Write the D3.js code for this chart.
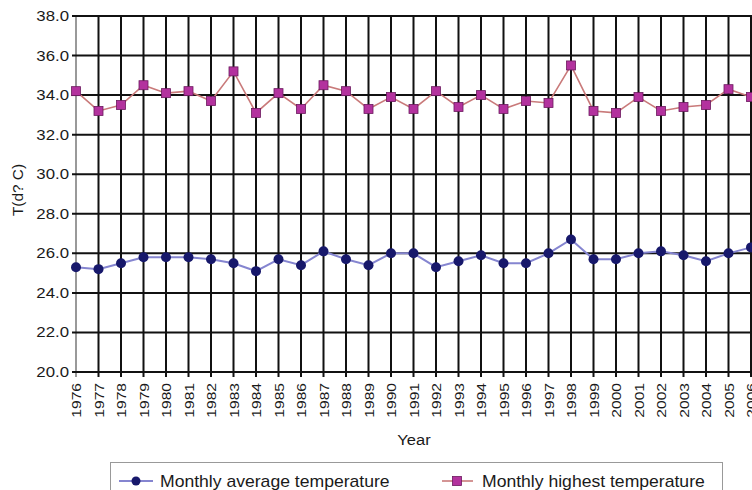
<!DOCTYPE html>
<html>
<head>
<meta charset="utf-8">
<script src="https://cdn.jsdelivr.net/npm/d3@7"></script>
<style>
  body { margin: 0; background: #fff; }
  text { font-family: "Liberation Sans", Arial, sans-serif; fill: #1a1a1a; }
</style>
</head>
<body>
<div id="chart"></div>
<script>
// data
let years = d3.range(1976, 2007);
let avgTemp = [25.3, 25.2, 25.5, 25.8, 25.8, 25.8, 25.7, 25.5, 25.1, 25.7,
               25.4, 26.1, 25.7, 25.4, 26.0, 26.0, 25.3, 25.6, 25.9, 25.5,
               25.5, 26.0, 26.7, 25.7, 25.7, 26.0, 26.1, 25.9, 25.6, 26.0, 26.3];
let maxTemp = [34.2, 33.2, 33.5, 34.5, 34.1, 34.2, 33.7, 35.2, 33.1, 34.1,
               33.3, 34.5, 34.2, 33.3, 33.9, 33.3, 34.2, 33.4, 34.0, 33.3,
               33.7, 33.6, 35.5, 33.2, 33.1, 33.9, 33.2, 33.4, 33.5, 34.3, 33.9];
let yTicks = [20, 22, 24, 26, 28, 30, 32, 34, 36, 38];
let seriesNames = ["Monthly average temperature", "Monthly highest temperature"];

let w = 752;
let h = 490;
let margin = {top: 16, right: 1, bottom: 118, left: 76};

let svg = d3.select("#chart")
            .append("svg")
            .attr("width", w)
            .attr("height", h);

let x = d3.scaleLinear().domain([1976, 2006]).range([margin.left, w - margin.right]);
let y = d3.scaleLinear().domain([20, 38]).range([h - margin.bottom, margin.top]);

// vertical grid
svg.append("g")
   .selectAll("line")
   .data(years)
   .enter()
   .append("line")
   .attr("x1", d => x(d)).attr("x2", d => x(d))
   .attr("y1", y(38)).attr("y2", y(20) + 5)
   .attr("stroke", (d, i) => i === 0 ? "#999" : "#111")
   .attr("stroke-width", 2);

// horizontal grid
svg.append("g")
   .selectAll("line")
   .data(yTicks)
   .enter()
   .append("line")
   .attr("x1", x(1976) - 4).attr("x2", w)
   .attr("y1", d => y(d)).attr("y2", d => y(d))
   .attr("stroke", "#111")
   .attr("stroke-width", 2);

// y tick labels
svg.append("g")
   .selectAll("text")
   .data(yTicks)
   .enter()
   .append("text")
   .attr("text-anchor", "end")
   .attr("transform", d => "translate(" + (x(1976) - 7) + "," + (y(d) + 5) + ") scale(1.2,1)")
   .style("font-size", "14px")
   .text(d => d.toFixed(1));

// x tick labels (rotated)
svg.append("g")
   .selectAll("text")
   .data(years)
   .enter()
   .append("text")
   .attr("text-anchor", "end")
   .attr("transform", d => "translate(" + (x(d) + 5) + "," + (y(20) + 11) + ") rotate(-90) scale(1.2,1)")
   .style("font-size", "13px")
   .text(d => d);

// axis titles
svg.append("text")
   .attr("text-anchor", "middle")
   .attr("transform", "translate(" + 414 + "," + 445 + ") scale(1.1,1)")
   .style("font-size", "15px")
   .text("Year");

svg.append("text")
   .attr("text-anchor", "middle")
   .attr("transform", "translate(" + 23 + "," + 190 + ") rotate(-90) scale(1.1,1)")
   .style("font-size", "14px")
   .text("T(d? C)");

// lines
let line = d3.line().x((d, i) => x(years[i])).y(d => y(d));

svg.append("path")
   .datum(maxTemp)
   .attr("d", line)
   .attr("fill", "none")
   .attr("stroke", "#c97a7a")
   .attr("stroke-width", 1.6);

svg.append("path")
   .datum(avgTemp)
   .attr("d", line)
   .attr("fill", "none")
   .attr("stroke", "#8585d0")
   .attr("stroke-width", 2);

svg.append("g")
   .selectAll("rect")
   .data(maxTemp)
   .enter()
   .append("rect")
   .attr("x", (d, i) => x(years[i]) - 4.5)
   .attr("y", d => y(d) - 4.5)
   .attr("width", 9).attr("height", 9)
   .attr("fill", "#b3329e")
   .attr("stroke", "#6b1a5e")
   .attr("stroke-width", 0.8);

svg.append("g")
   .selectAll("circle")
   .data(avgTemp)
   .enter()
   .append("circle")
   .attr("cx", (d, i) => x(years[i]))
   .attr("cy", d => y(d))
   .attr("r", 5)
   .attr("fill", "#17186b");

// legend
let legend = svg.append("g");
legend.append("rect")
      .attr("x", 110.5).attr("y", 462.5)
      .attr("width", 612).attr("height", 40)
      .attr("fill", "#fff")
      .attr("stroke", "#999");

legend.append("line")
      .attr("x1", 119).attr("x2", 153).attr("y1", 481).attr("y2", 481)
      .attr("stroke", "#8585d0").attr("stroke-width", 2);
legend.append("circle")
      .attr("cx", 136).attr("cy", 481).attr("r", 4.5)
      .attr("fill", "#17186b");
legend.append("text")
      .attr("transform", "translate(160,487) scale(1.1,1)")
      .style("font-size", "16px")
      .text(seriesNames[0]);

legend.append("line")
      .attr("x1", 442).attr("x2", 473).attr("y1", 481).attr("y2", 481)
      .attr("stroke", "#c97a7a").attr("stroke-width", 1.6);
legend.append("rect")
      .attr("x", 452.5).attr("y", 476.5).attr("width", 9).attr("height", 9)
      .attr("fill", "#b3329e").attr("stroke", "#6b1a5e").attr("stroke-width", 0.8);
legend.append("text")
      .attr("transform", "translate(482,487) scale(1.1,1)")
      .style("font-size", "16px")
      .text(seriesNames[1]);
</script>
</body>
</html>
